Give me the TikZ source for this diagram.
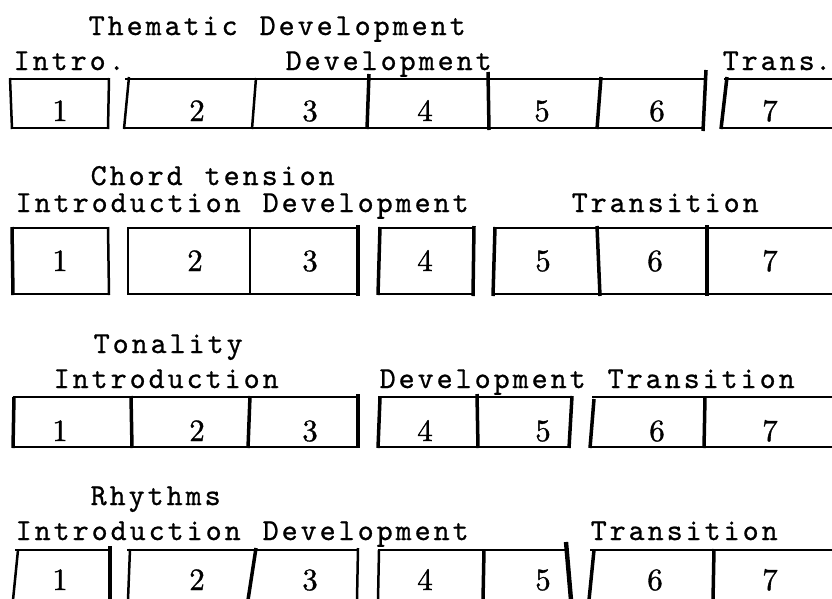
\documentclass[tikz,border=0pt]{standalone}
\font\lblfont="[lmmono10-regular]:embolden=0.8" at 30.5pt
\font\numfont="[lmroman10-regular]:embolden=1.0" at 31pt
\def\twtext#1{\twchar#1\twend}
\def\twend{\twend}
\def\twchar#1{\ifx#1\twend\else\makebox[19pt][c]{#1}\expandafter\twchar\fi}
\tikzset{
  lbl/.style={anchor=base west, inner sep=0pt, font=\lblfont, text depth=0pt},
  num/.style={anchor=base, inner sep=0pt, font=\numfont},
  hline/.style={line width=1.6pt},
  vline/.style={line width=2.5pt},
  heavy/.style={line width=3.5pt},
}
\begin{document}
\begin{tikzpicture}[x=1pt,y=-1pt]
\useasboundingbox (0,0) rectangle (832,598);
\clip (0,0) rectangle (832,598);
% ---------------- Row 1 : Thematic Development
\node[lbl] (r1t) at (87,35) {\twtext{Thematic~Development}};
\node[lbl] (r1a) at (12,70) {\twtext{Intro.}};
\node[lbl] (r1b) at (284,70) {\twtext{Development}};
\node[lbl] (r1c) at (721,70) {\twtext{Trans}\makebox[14pt][c]{.}};
\draw[hline] (11,79) -- (109,79) (11,128) -- (109,128);
\draw[vline] (10,78) -- (12,129);
\draw[vline] (109,78) -- (108,129);
\draw[hline] (125,79) -- (705,79) (124,128) -- (705,128);
\draw[vline] (129,77) -- (124,129);
\draw[vline] (256,78) -- (252,129);
\draw[heavy] (369,74) -- (367,129);
\draw[heavy] (488,72) -- (489,130);
\draw[heavy] (601,77) -- (597,129);
\draw[heavy] (706,70) -- (703,131);
\draw[hline] (724,79) -- (832,79) (721,128) -- (832,128);
\draw[heavy] (727,77) -- (721,129);
\node[num] (r1n1) at (60,121) {1};
\node[num] (r1n2) at (197,121) {2};
\node[num] (r1n3) at (310,121) {3};
\node[num] (r1n4) at (425,121) {4};
\node[num] (r1n5) at (542,121) {5};
\node[num] (r1n6) at (657,121) {6};
\node[num] (r1n7) at (770,121) {7};
% ---------------- Row 2 : Chord tension
\node[lbl] (r2t) at (89,185) {\twtext{Chord~tension}};
\node[lbl] (r2a) at (14,212) {\twtext{Introduction~Development}};
\node[lbl] (r2b) at (570,212) {\twtext{Transition}};
\draw[hline] (12,228) -- (108,228) (12,294) -- (108,294);
\draw[heavy] (12,227) -- (13,295);
\draw[vline] (108,227) -- (109,295);
\draw[hline] (127,228) -- (358,228) (127,294) -- (358,294);
\draw[vline] (128,227) -- (128,295);
\draw[vline] (250,227) -- (250,295);
\draw[heavy] (358,225) -- (358,296);
\draw[hline] (378,228) -- (473,228) (378,294) -- (473,294);
\draw[heavy] (380,227) -- (378,295);
\draw[heavy] (474,226) -- (473,296);
\draw[hline] (493,228) -- (832,228) (493,294) -- (832,294);
\draw[heavy] (495,227) -- (493,296);
\draw[heavy] (597,226) -- (600,296);
\draw[heavy] (707,225) -- (707,296);
\node[num] (r2n1) at (60,271) {1};
\node[num] (r2n2) at (195,271) {2};
\node[num] (r2n3) at (310,271) {3};
\node[num] (r2n4) at (425,271) {4};
\node[num] (r2n5) at (543,271) {5};
\node[num] (r2n6) at (655,271) {6};
\node[num] (r2n7) at (770,271) {7};
% ---------------- Row 3 : Tonality
\node[lbl] (r3t) at (92,353) {\twtext{Tonality}};
\node[lbl] (r3a) at (52,388) {\twtext{Introduction}};
\node[lbl] (r3b) at (378,388) {\twtext{Development~Transition}};
\draw[hline] (13,397) -- (358,397) (13,447) -- (358,447);
\draw[heavy] (14,397) -- (13,448);
\draw[heavy] (131,396) -- (132,448);
\draw[heavy] (250,396) -- (248,448);
\draw[heavy] (358,394) -- (358,448);
\draw[hline] (378,397) -- (570,397) (378,447) -- (570,447);
\draw[heavy] (380,398) -- (378,448);
\draw[heavy] (477,394) -- (478,448);
\draw[heavy] (572,396) -- (569,448);
\draw[hline] (592,397) -- (832,397) (590,447) -- (832,447);
\draw[heavy] (594,399) -- (590,448);
\draw[heavy] (705,397) -- (704,448);
\node[num] (r3n1) at (60,441) {1};
\node[num] (r3n2) at (197,441) {2};
\node[num] (r3n3) at (310,441) {3};
\node[num] (r3n4) at (425,441) {4};
\node[num] (r3n5) at (543,441) {5};
\node[num] (r3n6) at (657,441) {6};
\node[num] (r3n7) at (770,441) {7};
% ---------------- Row 4 : Rhythms
\node[lbl] (r4t) at (89,505) {\twtext{Rhythms}};
\node[lbl] (r4a) at (14,540) {\twtext{Introduction~Development}};
\node[lbl] (r4b) at (589,540) {\twtext{Transition}};
\draw[hline] (15,550) -- (110,550);
\draw[vline] (18,550) -- (13,600);
\draw[heavy] (110,546) -- (110,600);
\draw[hline] (127,550) -- (358,550);
\draw[vline] (130,549) -- (128,600);
\draw[heavy] (256,548) -- (248,600);
\draw[vline] (358,548) -- (357,600);
\draw[hline] (378,550) -- (567,550);
\draw[vline] (379,550) -- (378,600);
\draw[heavy] (484,550) -- (483,600);
\draw[line width=4.4pt] (566,542) -- (571,600);
\draw[hline] (590,550) -- (832,550);
\draw[heavy] (594,550) -- (589,600);
\draw[heavy] (714,549) -- (713,600);
\node[num] (r4n1) at (60,590) {1};
\node[num] (r4n2) at (197,590) {2};
\node[num] (r4n3) at (310,590) {3};
\node[num] (r4n4) at (425,590) {4};
\node[num] (r4n5) at (543,590) {5};
\node[num] (r4n6) at (655,590) {6};
\node[num] (r4n7) at (770,590) {7};
\end{tikzpicture}
\end{document}
